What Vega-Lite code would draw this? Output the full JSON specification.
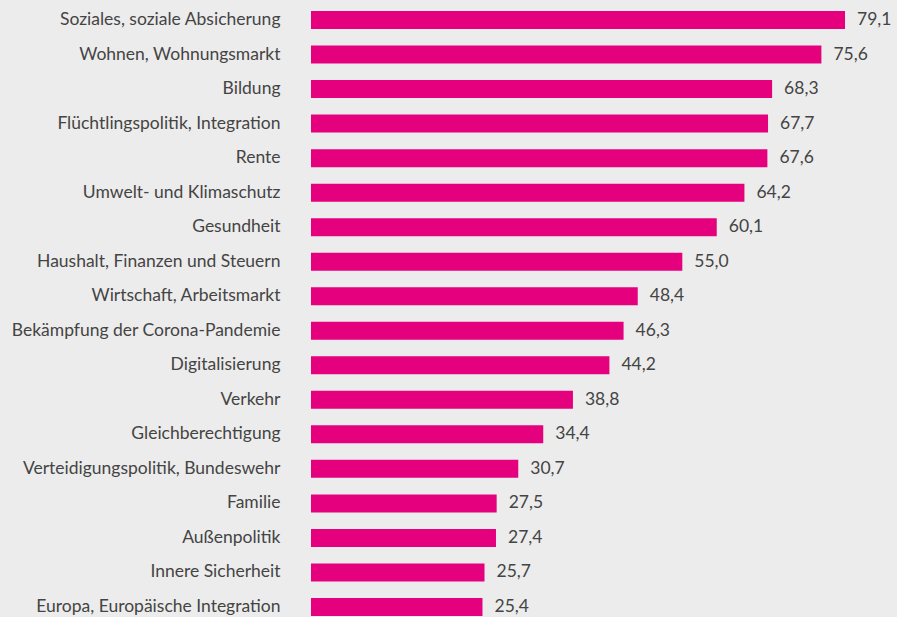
{
  "$schema": "https://vega.github.io/schema/vega-lite/v6.json",
  "width": 586,
  "height": 607,
  "autosize": "none",
  "padding": {"left": 311, "top": 10, "right": 0, "bottom": 0},
  "background": "#ECECEC",
  "config": {
    "view": {"stroke": null},
    "font": "Lato",
    "locale": {"number": {"decimal": ",", "thousands": ".", "grouping": [3], "currency": ["", " €"]}}
  },
  "data": {
    "values": [
      {"thema": "Soziales, soziale Absicherung", "wert": 79.1},
      {"thema": "Wohnen, Wohnungsmarkt", "wert": 75.6},
      {"thema": "Bildung", "wert": 68.3},
      {"thema": "Flüchtlingspolitik, Integration", "wert": 67.7},
      {"thema": "Rente", "wert": 67.6},
      {"thema": "Umwelt- und Klimaschutz", "wert": 64.2},
      {"thema": "Gesundheit", "wert": 60.1},
      {"thema": "Haushalt, Finanzen und Steuern", "wert": 55.0},
      {"thema": "Wirtschaft, Arbeitsmarkt", "wert": 48.4},
      {"thema": "Bekämpfung der Corona-Pandemie", "wert": 46.3},
      {"thema": "Digitalisierung", "wert": 44.2},
      {"thema": "Verkehr", "wert": 38.8},
      {"thema": "Gleichberechtigung", "wert": 34.4},
      {"thema": "Verteidigungspolitik, Bundeswehr", "wert": 30.7},
      {"thema": "Familie", "wert": 27.5},
      {"thema": "Außenpolitik", "wert": 27.4},
      {"thema": "Innere Sicherheit", "wert": 25.7},
      {"thema": "Europa, Europäische Integration", "wert": 25.4}
    ]
  },
  "encoding": {
    "y": {
      "field": "thema",
      "type": "nominal",
      "sort": null,
      "scale": {"paddingInner": 0.479, "paddingOuter": 0.03},
      "axis": {
        "title": null,
        "domain": false,
        "ticks": false,
        "labelPadding": 31,
        "labelFontSize": 17.5,
        "labelColor": "#444444",
        "labelFont": "Lato",
        "labelLimit": 400
      }
    },
    "x": {
      "field": "wert",
      "type": "quantitative",
      "scale": {"domain": [0, 86.8], "nice": false, "zero": true},
      "axis": null
    }
  },
  "layer": [
    {"mark": {"type": "bar", "color": "#E5007E"}},
    {
      "mark": {"type": "text", "align": "left", "baseline": "middle", "dx": 12, "fontSize": 17.5, "color": "#444444", "font": "Lato"},
      "encoding": {"text": {"field": "wert", "type": "quantitative", "format": ".1f"}}
    }
  ]
}
